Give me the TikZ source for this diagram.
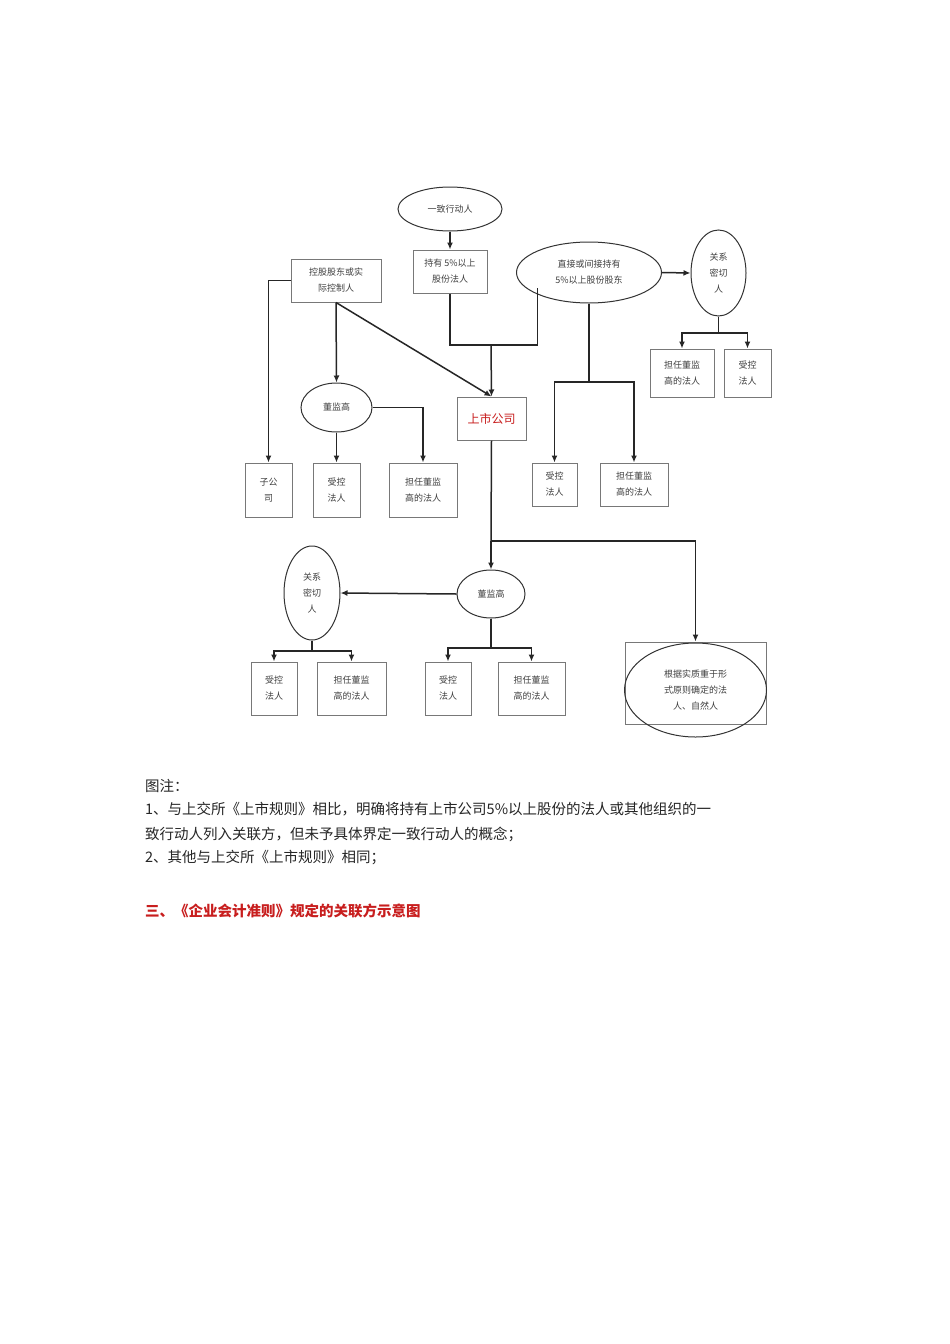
\documentclass[tikz,border=0pt]{standalone}
\usepackage{fontspec}
\setmainfont{Liberation Sans}
\newfontfamily\cjk{Noto Sans CJK SC}
\usetikzlibrary{arrows.meta,shapes.geometric}
\definecolor{boxline}{RGB}{120,120,120}
\definecolor{hdred}{RGB}{200,30,30}
\tikzset{
 bx/.style={draw=boxline,line width=1pt,rectangle,inner sep=0pt,align=center,font=\cjk\fontsize{9}{16}\selectfont,text=black!75},
 el/.style={draw=black!80,line width=1pt,ellipse,inner sep=0pt,align=center,font=\cjk\fontsize{9}{16}\selectfont,text=black!75},
 ln/.style={line width=1.5pt,black!85},
 ar/.style={ln,-{Latex[length=7pt,width=6pt]}},
 tx/.style={anchor=west,inner sep=0pt,font=\cjk\fontsize{14.5}{18}\selectfont,text=black!85}
}
\begin{document}
\begin{tikzpicture}[x=1pt,y=-1pt]
\useasboundingbox (0,0) rectangle (950,1344);
\fill[white] (0,0) rectangle (950,1344);
% top
\node[el,minimum width=104pt,minimum height=44pt] (yz) at (450,209) {一致行动人};
\node[bx,minimum width=74pt,minimum height=43pt] (cy) at (450,271.5) {持有 5\%以上\\股份法人};
\node[bx,minimum width=90pt,minimum height=43pt] (kg) at (336,280.5) {控股股东或实\\际控制人};
\node[el,minimum width=145pt,minimum height=61pt] (zj) at (589,272.5) {直接或间接持有\\5\%以上股份股东};
\node[el,minimum width=55pt,minimum height=86pt] (gx1) at (718.5,273) {关系\\密切\\人};
\node[bx,minimum width=64pt,minimum height=48pt] (dr1) at (682,373) {担任董监\\高的法人};
\node[bx,minimum width=47pt,minimum height=48pt] (sk1) at (747.5,373) {受控\\法人};
\node[bx,minimum width=69pt,minimum height=43pt,font=\cjk\fontsize{12}{14}\selectfont,text=hdred] (ss) at (491.5,418.5) {上市公司};
\node[el,minimum width=71pt,minimum height=49pt] (d1) at (336.5,407.5) {董监高};
\node[bx,minimum width=47pt,minimum height=54pt] (zg) at (268.5,490) {子公\\司};
\node[bx,minimum width=47pt,minimum height=54pt] (sk2) at (336.5,490) {受控\\法人};
\node[bx,minimum width=68pt,minimum height=54pt] (dr2) at (423,490) {担任董监\\高的法人};
\node[bx,minimum width=45pt,minimum height=43pt] (sk3) at (554.5,484.5) {受控\\法人};
\node[bx,minimum width=68pt,minimum height=43pt] (dr3) at (634,484.5) {担任董监\\高的法人};
% lower
\node[el,minimum width=68pt,minimum height=48pt] (d2) at (491,594) {董监高};
\node[el,minimum width=56pt,minimum height=94pt] (gx2) at (312,593) {关系\\密切\\人};
\node[bx,minimum width=46pt,minimum height=53pt] (sk4) at (274,688.5) {受控\\法人};
\node[bx,minimum width=69pt,minimum height=53pt] (dr4) at (351.5,688.5) {担任董监\\高的法人};
\node[bx,minimum width=46pt,minimum height=53pt] (sk5) at (448,688.5) {受控\\法人};
\node[bx,minimum width=67pt,minimum height=53pt] (dr5) at (531.5,688.5) {担任董监\\高的法人};
\node[bx,minimum width=141pt,minimum height=82pt] (sz) at (695.5,683) {};
\node[el,minimum width=142pt,minimum height=94pt] (sze) at (695.5,690) {根据实质重于形\\式原则确定的法\\人、自然人};
% connectors
\draw[ar] (yz.south) -- (cy.north);
\draw[ln] (cy.south) |- (491,345);
\draw[ln] (zj.south west) ++(0,-6) coordinate (zjl) -- (zjl |- 0,345) -- (491,345);
\draw[ar] (491,345) -- (ss.north);
\draw[ar] (kg.south) -- (d1.north);
\draw[ar] (kg.south) -- (ss.north);
\draw[ar] (kg.west) -| (zg.north);
\draw[ar] (d1.south) -- (sk2.north);
\draw[ar] (d1.east) -| (dr2.north);
\draw[ar] (zj.east) -- (gx1.west);
\draw[ln] (gx1.south) -- (718.5,333);
\draw[ar] (718.5,333) -| (dr1.north);
\draw[ar] (718.5,333) -| (sk1.north);
\draw[ln] (zj.south) -- (589,382);
\draw[ar] (589,382) -| (sk3.north);
\draw[ar] (589,382) -| (dr3.north);
\draw[ln] (ss.south) -- (491,541);
\draw[ar] (491,541) -- (d2.north);
\draw[ar] (491,541) -| (sz.north);
\draw[ar] (d2.west) -- (gx2.east);
\draw[ln] (gx2.south) -- (312,651);
\draw[ar] (312,651) -| (sk4.north);
\draw[ar] (312,651) -| (dr4.north);
\draw[ln] (d2.south) -- (491,648);
\draw[ar] (491,648) -| (sk5.north);
\draw[ar] (491,648) -| (dr5.north);
% notes
\node[tx] (n0) at (145,786) {图注：};
\node[tx] (n1) at (145,809) {1、与上交所《上市规则》相比，明确将持有上市公司5\%以上股份的法人或其他组织的一};
\node[tx] (n2) at (145,834) {致行动人列入关联方，但未予具体界定一致行动人的概念；};
\node[tx] (n3) at (145,858) {2、其他与上交所《上市规则》相同；};
\node[tx,font=\cjk\bfseries\fontsize{14.5}{18}\selectfont,text=hdred] (h3) at (145,911) {三、《企业会计准则》规定的关联方示意图};
\end{tikzpicture}
\end{document}
